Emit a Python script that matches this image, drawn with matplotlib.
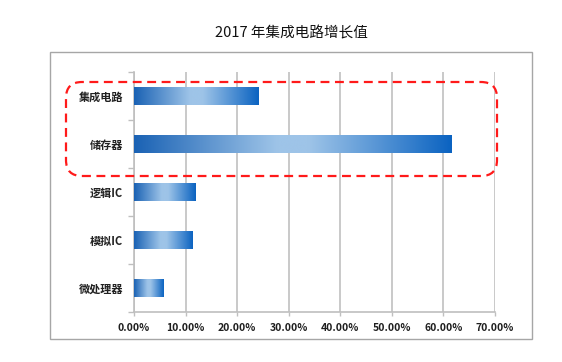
import numpy as np
import matplotlib
matplotlib.use('Agg')
import matplotlib.pyplot as plt
from matplotlib.colors import LinearSegmentedColormap
from matplotlib.patches import FancyBboxPatch, Rectangle

plt.rcParams['font.family'] = ['Noto Sans CJK SC', 'DejaVu Sans']

# data (growth, %)
categories = ['集成电路', '储存器', '逻辑IC', '模拟IC', '微处理器']
growth = [24.1, 61.6, 12.0, 11.3, 5.8]
xticks = [0, 10, 20, 30, 40, 50, 60, 70]
title = '2017 年集成电路增长值'

cmap = LinearSegmentedColormap.from_list(
    'bar', [(0.0, '#1a62b4'), (0.45, '#9ec4e8'), (0.55, '#9ec4e8'), (1.0, '#0b63c1')])
grad = np.linspace(0, 1, 256).reshape(1, -1)

fig = plt.figure(figsize=(5.62, 3.62), dpi=100)
ax = fig.add_axes([0.2384, 0.1381, 0.6423, 0.663])

bar_h = 0.36
for i, v in enumerate(growth):
    ax.imshow(grad, extent=[0, v, i + bar_h / 2, i - bar_h / 2], aspect='auto',
              cmap=cmap, interpolation='bicubic', zorder=3)

ax.set_xlim(0, 70)
ax.set_ylim(len(categories) - 0.5, -0.5)
ax.set_xticks(xticks)
ax.set_xticklabels([f'{t:.2f}%' for t in xticks], fontsize=7.5, fontweight='bold',
                   color='#1f1f1f')
ax.set_yticks(range(len(categories)))
ax.set_yticklabels(categories, fontsize=8, fontweight='bold', color='#222222')
ax.set_yticks(np.arange(-0.5, len(categories)), minor=True)
ax.tick_params(axis='y', which='major', length=0, pad=8)
ax.tick_params(axis='y', which='minor', length=4, color='#bfbfbf', width=1)
ax.tick_params(axis='x', length=3, color='#bfbfbf', width=1, pad=5)
ax.grid(axis='x', color='#c0c0c0', linewidth=1.2, zorder=0)
ax.set_axisbelow(True)
for s in ['top', 'right']:
    ax.spines[s].set_visible(False)
for s in ['left', 'bottom']:
    ax.spines[s].set_color('#bfbfbf')
    ax.spines[s].set_linewidth(1.2)

# chart frame
fig.add_artist(Rectangle((0.50, 0.23), 4.82, 2.87, transform=fig.dpi_scale_trans,
                         fill=False, edgecolor='#a6a6a6', linewidth=1))
# red dashed highlight
fig.add_artist(FancyBboxPatch((0.66, 1.86), 4.31, 0.94,
                              boxstyle='round,pad=0,rounding_size=0.16',
                              transform=fig.dpi_scale_trans, fill=False,
                              edgecolor='#ff1a1a', linewidth=1.6,
                              linestyle=(0, (4, 2.5)), zorder=10))

fig.text(0.519, 0.909, title, ha='center', va='center', fontsize=10.5, color='#111111')

fig.savefig('out.png', dpi=100)
